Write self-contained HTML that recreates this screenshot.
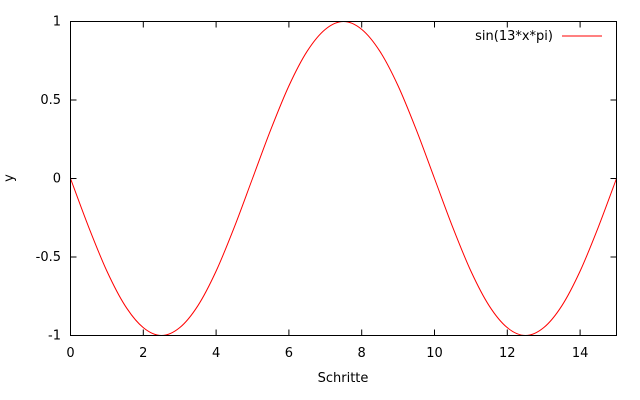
<!DOCTYPE html>
<html><head><meta charset="utf-8"><style>
html,body{margin:0;padding:0;background:#fff;}
svg{display:block;font-family:"DejaVu Sans","Liberation Sans",sans-serif;font-size:13px;}
</style></head><body>
<svg id="chart" width="640" height="400">
<rect width="640" height="400" fill="#fff"/>
<g id="axes"></g>
<path id="curve" fill="none" stroke="#ff0000" stroke-width="1"/>
<rect x="70.5" y="21.5" width="546" height="314" fill="none" stroke="#000"/>
<text x="13" y="178" text-anchor="middle" transform="rotate(-90 13 178)">y</text>
<text x="343" y="382" text-anchor="middle">Schritte</text>
<g>
<text x="553" y="40" text-anchor="end">sin(13*x*pi)</text>
<line x1="562" y1="36" x2="602" y2="36" stroke="#ff0000"/>
</g>
</svg>
<script>
const xValues=[0,0.5,1,1.5,2,2.5,3,3.5,4,4.5,5,5.5,6,6.5,7,7.5,8,8.5,9,9.5,10,10.5,11,11.5,12,12.5,13,13.5,14,14.5,15];
const yValues=[0,-0.31,-0.59,-0.81,-0.95,-1,-0.95,-0.81,-0.59,-0.31,0,0.31,0.59,0.81,0.95,1,0.95,0.81,0.59,0.31,0,-0.31,-0.59,-0.81,-0.95,-1,-0.95,-0.81,-0.59,-0.31,0];
const xTicks=[0,2,4,6,8,10,12,14];
const yTicks=[-1,-0.5,0,0.5,1];
const yTickLabels=["-1","-0.5","0","0.5","1"];
const X0=70.5,X1=616.5,Y0=335.5,Y1=21.5;
function sx(v){return X0+(v-0)/(15-0)*(X1-X0);}
function sy(v){return Y0-(v+1)/2*(Y0-Y1);}
const ns="http://www.w3.org/2000/svg";
const axes=document.getElementById('axes');
function mk(tag,attrs){const e=document.createElementNS(ns,tag);for(const k in attrs)e.setAttribute(k,attrs[k]);return e;}
xTicks.forEach(v=>{
  const x=sx(v);
  const t1=mk('line',{x1:x,y1:Y0,x2:x,y2:Y0-6,stroke:'#000'});
  
  
  axes.appendChild(t1);
  const t2=mk('line',{x1:x,y1:Y1,x2:x,y2:Y1+6,stroke:'#000'});
  
  
  axes.appendChild(t2);
  const l=mk('text',{x:x,y:357,'text-anchor':'middle'});
  l.textContent=String(v);
  
  
  axes.appendChild(l);
});
yTicks.forEach((v,i)=>{
  const y=sy(v);
  const t1=mk('line',{x1:X0,y1:y,x2:X0+6,y2:y,stroke:'#000'});
  
  
  axes.appendChild(t1);
  const t2=mk('line',{x1:X1,y1:y,x2:X1-6,y2:y,stroke:'#000'});
  
  
  axes.appendChild(t2);
  const l=mk('text',{x:61,y:y+4,'text-anchor':'end'});
  l.textContent=yTickLabels[i];
  
  
  axes.appendChild(l);
});
const pts=xValues.map((x,i)=>[sx(x),sy(yValues[i])]);
let d='M'+pts[0][0]+','+pts[0][1];
for(let i=0;i<pts.length-1;i++){
  const p0=pts[Math.max(0,i-1)],p1=pts[i],p2=pts[i+1],p3=pts[Math.min(pts.length-1,i+2)];
  const c1=[p1[0]+(p2[0]-p0[0])/6,p1[1]+(p2[1]-p0[1])/6];
  const c2=[p2[0]-(p3[0]-p1[0])/6,p2[1]-(p3[1]-p1[1])/6];
  d+=' C'+c1.join(',')+' '+c2.join(',')+' '+p2.join(',');
}
document.getElementById('curve').setAttribute('d',d);
</script>
</body></html>
